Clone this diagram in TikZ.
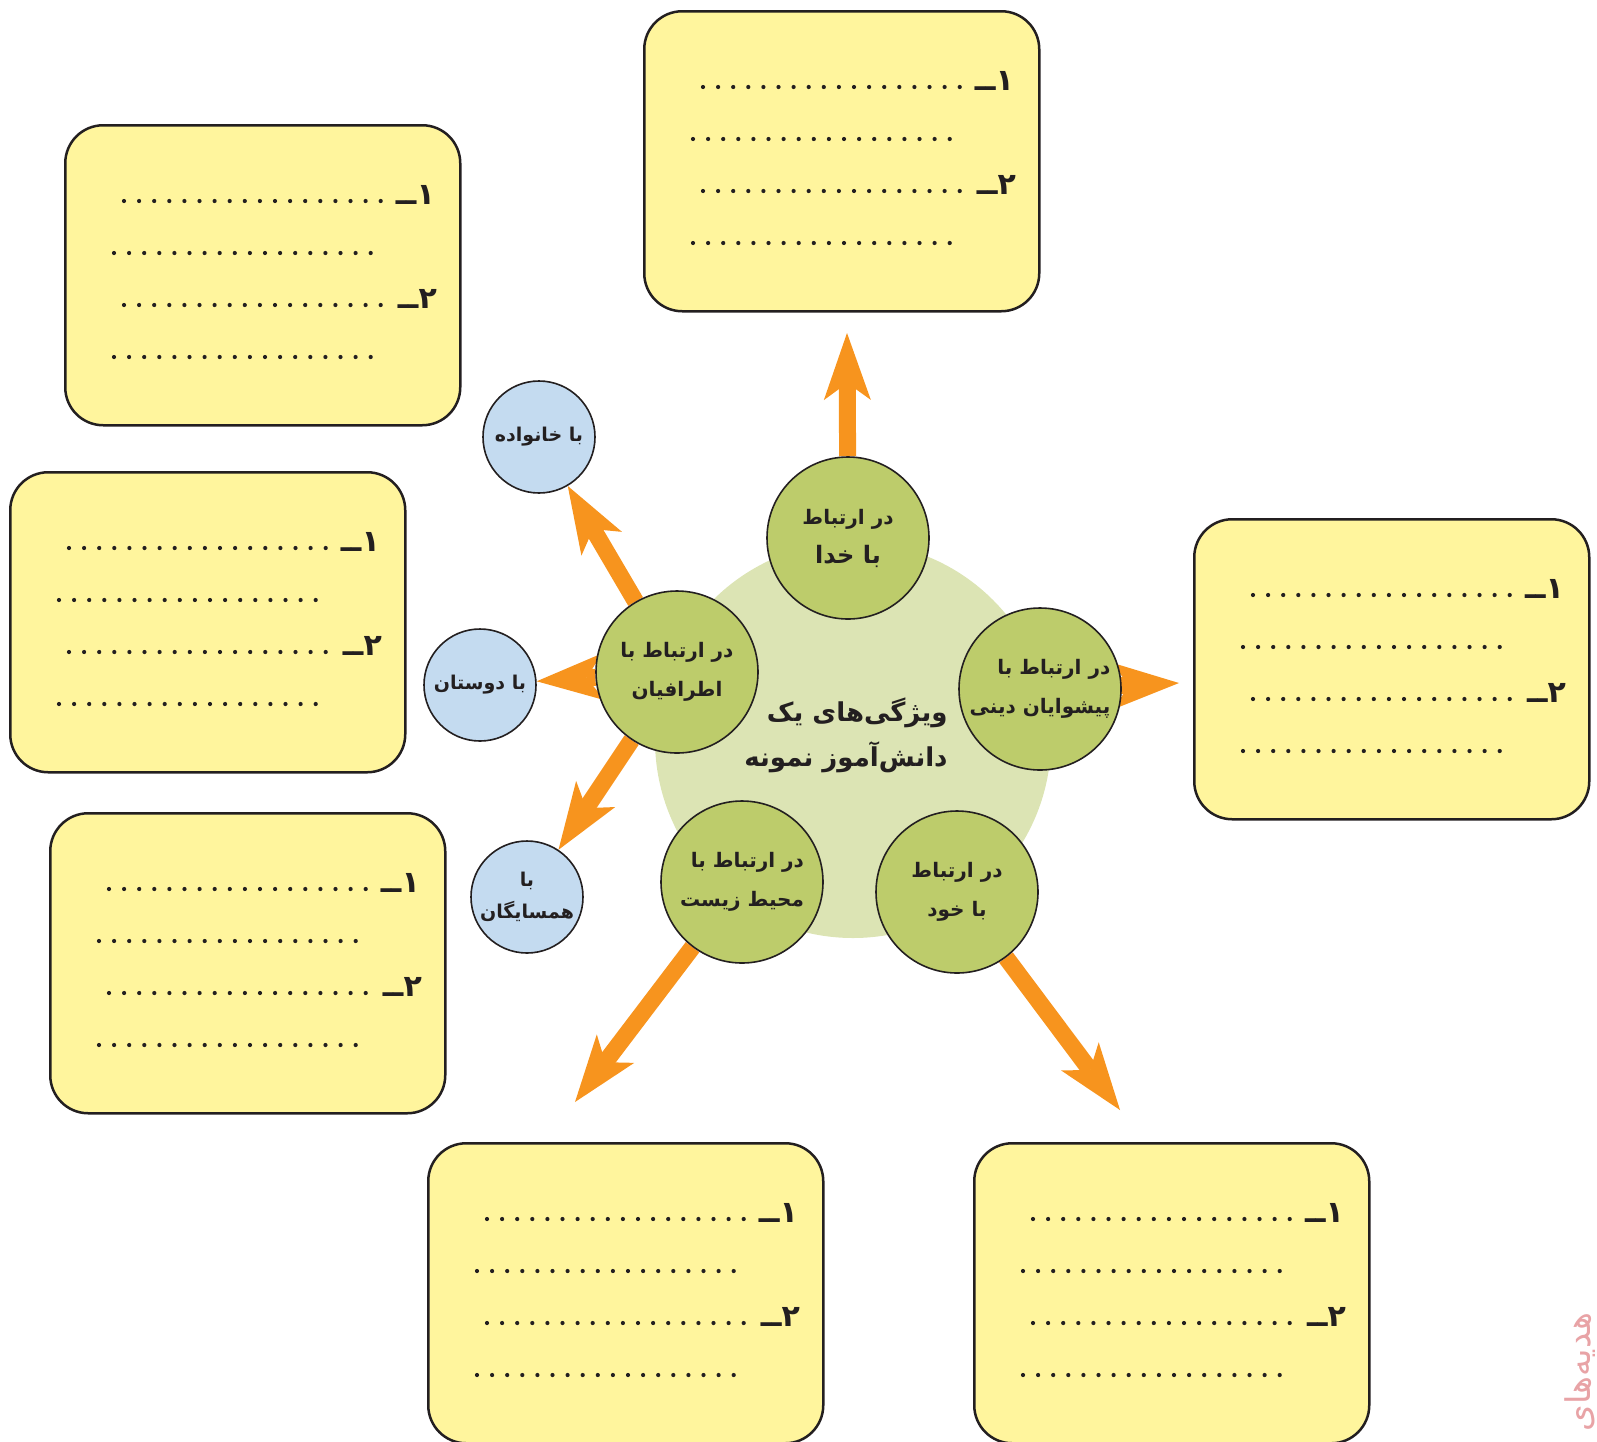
\documentclass[tikz,border=0pt]{standalone}
\usepackage{fontspec}
\newfontfamily\fa[Script=Arabic]{DejaVu Sans}
\TeXXeTstate=1
\usetikzlibrary{arrows.meta,backgrounds}

\newcommand{\rl}[1]{\beginR#1\endR}

\definecolor{lineblack}{HTML}{231F20}
\definecolor{boxyellow}{HTML}{FFF59D}
\definecolor{topicgreen}{HTML}{BDCC6B}
\definecolor{palegreen}{HTML}{DCE4B4}
\definecolor{subblue}{HTML}{C4DBF0}
\definecolor{arroworange}{HTML}{F7941E}
\definecolor{markpink}{HTML}{E8A3A6}

\tikzset{
  answerbox/.style={rectangle, draw=lineblack, line width=2.5pt, fill=boxyellow, rounded corners=38pt, minimum width=395pt, minimum height=300pt, anchor=north west},
  topicnode/.style={circle, draw=lineblack, line width=1.6pt, fill=topicgreen, minimum size=162pt, inner sep=0pt, text=lineblack, font=\fa\bfseries\fontsize{20}{39}\selectfont},
  subnode/.style={circle, draw=lineblack, line width=1.6pt, fill=subblue, minimum size=112pt, inner sep=0pt, align=center, text=lineblack, font=\fa\bfseries\fontsize{19}{32}\selectfont},
  dotrow/.style={draw=lineblack, line width=4.2pt, line cap=round, dash pattern=on 0pt off 15.1pt},
  numlabel/.style={anchor=base east, inner sep=0pt, text=lineblack, font=\fa\bfseries\fontsize{30}{36}\selectfont},
  bigarrow/.style={draw=arroworange, line width=17pt, -{Stealth[length=67pt, width=47pt, inset=17pt, line width=0pt]}}
}

\begin{document}
\begin{tikzpicture}[x=1pt, y=-1pt]
\useasboundingbox (0,0) rectangle (1597,1441);

% five topics round the centre
\node[topicnode, align=center] (khoda) at (848,538) {\rl{در ارتباط}\\{\fontsize{24}{30}\selectfont\rl{با خدا}}};
\node[topicnode, align=right] (pishva) at (1040,689) {\rl{در ارتباط با}\\\rl{پیشوایان دینی}};
\node[topicnode, align=center] (khod) at (957,892) {\rl{در ارتباط}\\\rl{با خود}};
\node[topicnode, align=right] (mohit) at (742,882) {\rl{در ارتباط با}\\\rl{محیط زیست}};
\node[topicnode, align=center] (atraf) at (677,672) {\rl{در ارتباط با}\\\rl{اطرافیان}};

\node[subnode] (family) at (539,437) {\rl{با خانواده}};
\node[subnode] (friends) at (480,685) {\rl{با دوستان}};
\node[subnode] (neighbours) at (527,897) {\rl{با}\\\rl{همسایگان}};

\coordinate (tipKhoda) at (847,333);
\coordinate (tipPishva) at (1179,683);
\coordinate (tipKhod) at (1120,1110);
\coordinate (tipMohit) at (575,1102);

\begin{scope}[on background layer]
\node[circle, fill=palegreen, minimum size=396pt] (centre) at (853,740) {};
\draw[bigarrow] (khoda) -- (tipKhoda);
\draw[bigarrow] (pishva.center) -- (tipPishva);
\draw[bigarrow] (khod) -- (tipKhod);
\draw[bigarrow] (mohit) -- (tipMohit);
\draw[bigarrow] (atraf) -- (family);
\draw[bigarrow] (atraf) -- (friends);
\draw[bigarrow] (atraf) -- (neighbours);
\end{scope}

\node[align=right, text=lineblack, font=\fa\bfseries\fontsize{26}{45}\selectfont] (title) at (846,735) {\rl{ویژگی‌های یک}\\\rl{دانش‌آموز نمونه}};

% answer boxes
\foreach \bname/\bx/\by in {khoda/643/10, family/64/124, friends/9/471, neighbours/49/812, pishva/1193/518, mohit/427/1142, khod/973/1142}{
  \node[answerbox] (box-\bname) at (\bx,\by) {};
  \draw[dotrow] (\bx+60,\by+77) -- (\bx+318,\by+77);
  \draw[dotrow] (\bx+50,\by+129) -- (\bx+309,\by+129);
  \draw[dotrow] (\bx+60,\by+181) -- (\bx+318,\by+181);
  \draw[dotrow] (\bx+50,\by+233) -- (\bx+309,\by+233);
  \node[numlabel] at (\bx+371,\by+80) {\rl{۱ــ}};
  \node[numlabel] at (\bx+373,\by+184) {\rl{۲ــ}};
}

\node[rotate=90, text=markpink, font=\fa\fontsize{34}{40}\selectfont] (mark) at (1580,1372) {\rl{هدیه‌های}};
\end{tikzpicture}
\end{document}
